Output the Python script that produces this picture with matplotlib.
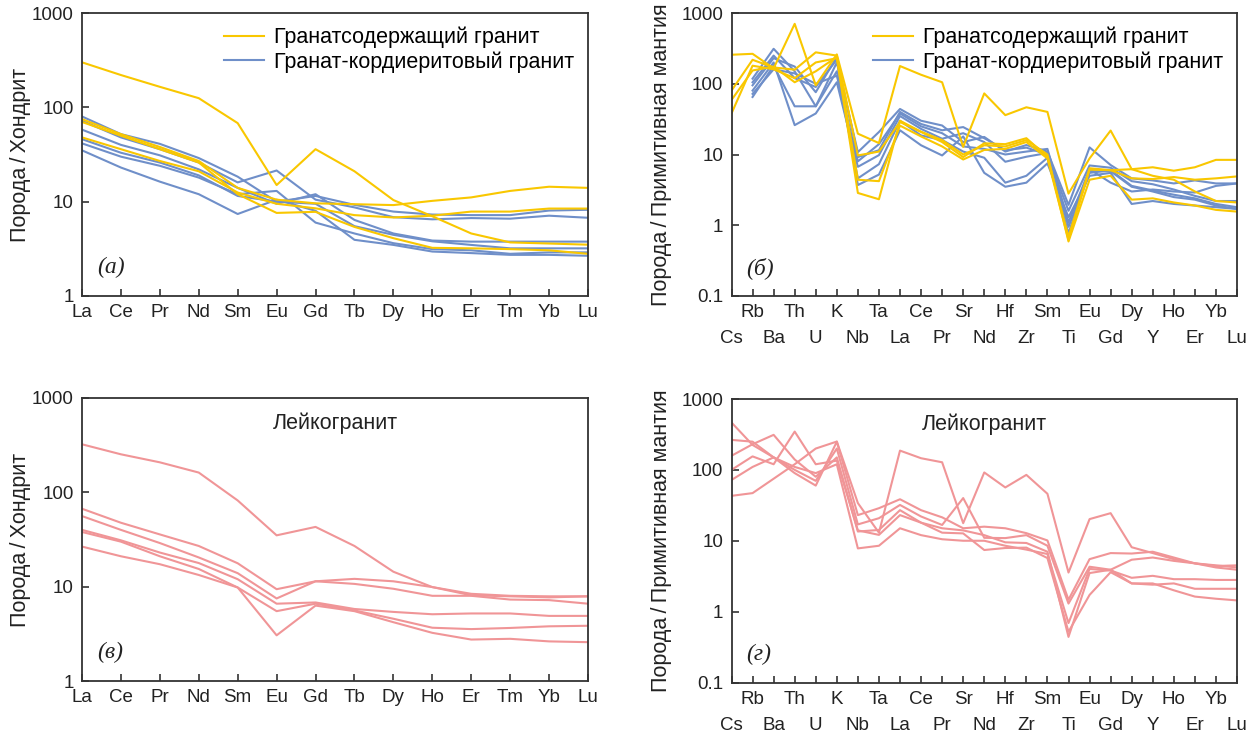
import numpy as np
import matplotlib.pyplot as plt
from matplotlib.ticker import NullLocator

plt.rcParams['font.family'] = ['Liberation Sans', 'DejaVu Sans']

# Element order for the two kinds of plots
ree = ['La', 'Ce', 'Pr', 'Nd', 'Sm', 'Eu', 'Gd', 'Tb', 'Dy', 'Ho', 'Er', 'Tm', 'Yb', 'Lu']
spider = ['Cs', 'Rb', 'Ba', 'Th', 'U', 'K', 'Nb', 'Ta', 'La', 'Ce', 'Pr', 'Sr', 'Nd',
          'Hf', 'Zr', 'Sm', 'Ti', 'Eu', 'Gd', 'Dy', 'Y', 'Ho', 'Er', 'Yb', 'Lu']

# Garnet-bearing granite, chondrite normalized
grt_ree = [
    [300, 220, 165, 125, 68, 15, 36, 21, 10.4, 7.0, 4.6, 3.7, 3.6, 3.5],
    [75, 52, 38, 27, 14, 10.5, 9.6, 9.4, 9.2, 10.2, 11.1, 13.0, 14.4, 14.0],
    [48, 36, 27, 21, 12.5, 9.5, 8.5, 7.2, 6.8, 7.1, 7.85, 7.85, 8.45, 8.45],
    [70, 50, 36, 26, 12, 7.6, 7.8, 5.4, 4.1, 3.24, 3.2, 3.14, 3.05, 2.8],
]
# Garnet-cordierite granite, chondrite normalized
crd_ree = [
    [80, 52, 41, 29, 18.4, 10, 11.5, 9.25, 7.85, 7.3, 7.2, 7.2, 8.05, 8.2],
    [72, 48, 36, 26, 16, 21.4, 10.5, 8.7, 6.85, 6.5, 6.7, 6.6, 7.1, 6.75],
    [58, 40, 31, 22, 14, 9.5, 12, 6.4, 4.6, 3.87, 3.77, 3.77, 3.77, 3.77],
    [46, 33, 26, 19, 11.5, 10, 9.5, 5.5, 4.45, 3.8, 3.48, 3.2, 3.2, 3.2],
    [41.5, 30, 24, 18, 12, 13, 6, 4.6, 3.63, 3.14, 3.05, 2.8, 2.9, 2.9],
    [35, 23, 16.3, 12, 7.4, 10.5, 8, 3.94, 3.48, 2.96, 2.85, 2.73, 2.73, 2.67],
]

# Garnet-bearing granite, primitive mantle normalized
grt_spider = [
    [257, 265, 165, 703, 95, 260, 19.7, 14.5, 178, 134, 105, 12.8, 73, 36, 46.5, 40,
     2.8, 8.8, 21.8, 6.2, 5.0, 4.4, 3.0, 2.2, 2.1],
    [80, 218, 170, 158, 278, 250, 9.7, 11, 28.8, 20.8, 15, 9.2, 14.4, 14, 17, 9.3,
     0.69, 6.4, 6.0, 6.2, 6.6, 5.9, 6.6, 8.4, 8.4],
    [59, 154, 175, 105, 150, 240, 4.4, 4.2, 25.6, 18, 13, 8.5, 11.6, 12, 15, 8.8,
     0.62, 6.1, 6.0, 4.6, 4.5, 4.8, 4.4, 4.6, 4.9],
    [38, 180, 160, 120, 200, 230, 2.86, 2.33, 30, 21, 16, 10, 13.5, 13, 16, 10,
     0.59, 4.4, 5.0, 2.3, 2.4, 2.1, 1.9, 1.65, 1.56],
]
# Garnet-cordierite granite, primitive mantle normalized (no Cs data)
crd_spider = [
    [np.nan, 118, 312, 150, 48, 200, 10.8, 20.8, 44, 30, 25.7, 15, 17.7, 11, 13.6, 11,
     1.94, 12.6, 7.1, 4.6, 4.3, 3.9, 4.3, 3.9, 3.9],
    [np.nan, 95, 230, 175, 76, 240, 9.2, 11.5, 40, 27, 22, 24.4, 17, 11.5, 12.5, 10,
     1.6, 7, 6.5, 4.2, 3.8, 3.2, 2.6, 2.2, 2.2],
    [np.nan, 80, 200, 26, 38, 105, 6.7, 9.8, 35, 23, 16.7, 20, 15, 7.9, 9.3, 10.5,
     0.95, 5.5, 6.0, 3.6, 3.1, 2.7, 2.4, 2.0, 1.8],
    [np.nan, 65, 180, 48, 48, 150, 4.6, 7.3, 30, 18.6, 16, 11, 9, 4.0, 5.0, 9,
     0.77, 5.8, 5.8, 3.5, 3.0, 2.5, 2.3, 1.9, 1.7],
    [np.nan, 105, 250, 120, 90, 220, 3.7, 5.2, 22, 13.5, 9.7, 18, 5.5, 3.5, 4.0, 7.5,
     1.3, 5.0, 5.5, 2.0, 2.2, 2.0, 1.9, 1.8, 1.7],
    [np.nan, 72, 160, 140, 100, 130, 8, 14, 38, 25, 20, 13, 12, 10, 11, 12,
     1.1, 6.2, 4.0, 3.0, 3.2, 3.0, 2.9, 3.6, 3.9],
]

# Leucogranite
leuco_ree = [
    [323, 253, 208, 162, 82, 35, 43, 27, 14.4, 9.9, 8.4, 8.0, 7.9, 7.9],
    [67, 47.6, 35.8, 27, 17.7, 9.4, 11.4, 12.1, 11.4, 9.9, 8.1, 7.9, 7.7, 7.9],
    [56, 40, 29, 20.4, 13.9, 7.5, 11.4, 10.7, 9.5, 8.0, 8.0, 7.3, 7.2, 6.6],
    [40, 31, 23, 17.8, 12, 6.6, 6.8, 5.8, 5.4, 5.1, 5.2, 5.2, 4.9, 4.9],
    [38, 30, 21, 15.4, 9.8, 5.5, 6.6, 5.6, 4.57, 3.67, 3.55, 3.65, 3.8, 3.85],
    [26.6, 21, 17.3, 13.3, 9.8, 3.05, 6.3, 5.5, 4.2, 3.24, 2.75, 2.8, 2.63, 2.58],
]
leuco_spider = [
    [43, 47, 75, 120, 200, 251, 34, 13, 187, 146, 128, 17.7, 92, 56.5, 85, 46,
     3.56, 20.2, 24.5, 8.1, 6.7, 5.5, 4.8, 4.4, 4.5],
    [466, 225, 150, 90, 60, 250, 23, 28.8, 38.5, 27, 21.4, 15, 15.8, 15, 12.8, 10.1,
     1.47, 5.5, 6.7, 6.6, 7.0, 5.8, 4.8, 4.2, 3.9],
    [265, 250, 150, 100, 70, 200, 17, 20.8, 32, 22, 16.7, 40, 11, 10.9, 12, 8.5,
     1.3, 4.3, 3.9, 5.4, 5.8, 5.2, 4.8, 4.5, 4.2],
    [158, 230, 312, 140, 80, 150, 13.5, 14.2, 27, 18, 13, 12.7, 7.4, 7.9, 8, 5.7,
     0.52, 1.72, 3.6, 2.5, 2.5, 2.0, 1.63, 1.52, 1.44],
    [100, 155, 120, 347, 120, 135, 14, 12.1, 23, 18, 15, 14, 12, 9.5, 9.3, 7,
     0.44, 3.5, 3.9, 2.5, 2.4, 2.5, 2.1, 2.1, 2.1],
    [72, 110, 150, 110, 90, 120, 7.8, 8.5, 15, 12, 10.5, 10, 10, 8.5, 7.5, 6.5,
     0.69, 4.0, 3.8, 3.0, 3.2, 2.87, 2.87, 2.8, 2.8],
]

yellow = '#F9C700'
blue = '#6F8FC9'
pink = '#F09597'
ink = '#222222'
lw = 1.5
label_size = 15.5
tick_size = 13.5


def setup(ax, labels, yticks, ylabel, labelpad, two_rows=False):
    ax.set_yscale('log')
    ax.set_ylim(yticks[0], yticks[-1])
    ax.set_yticks(yticks)
    ax.set_yticklabels([f'{t:g}' for t in yticks])
    ax.yaxis.set_minor_locator(NullLocator())
    ax.set_xlim(0, len(labels) - 1)
    pos = np.arange(len(labels))
    if two_rows:
        # odd elements on the upper row, even ones one row lower (minor ticks)
        ax.set_xticks(pos[1::2])
        ax.set_xticklabels(labels[1::2])
        ax.set_xticks(pos[0::2], minor=True)
        ax.set_xticklabels(labels[0::2], minor=True)
    else:
        ax.set_xticks(pos)
        ax.set_xticklabels(labels)
    ax.tick_params(which='both', direction='in', length=5, width=1.1,
                   labelsize=tick_size, colors=ink)
    ax.tick_params(axis='x', which='major', pad=6)
    ax.tick_params(axis='x', which='minor', pad=24.5)
    ax.tick_params(axis='y', pad=6)
    ax.set_ylabel(ylabel, fontsize=label_size, color=ink, labelpad=labelpad)
    for s in ax.spines.values():
        s.set_linewidth(1.3)
        s.set_color('#333333')


fig = plt.figure(figsize=(12.59, 7.38), dpi=100)
W, H = 1259, 738


def add_axes(left, top, right, bottom):
    return fig.add_axes([left / W, 1 - bottom / H, (right - left) / W, (bottom - top) / H])


ax_a = add_axes(82, 13, 588, 296)
ax_b = add_axes(731.5, 13, 1237, 296)
ax_c = add_axes(82, 398, 588, 681)
ax_d = add_axes(731.5, 399, 1237, 682.5)

x_ree = np.arange(len(ree))
x_sp = np.arange(len(spider))

# (a) and (b): garnet-bearing vs garnet-cordierite granites
for ax, x, grt, crd in [(ax_a, x_ree, grt_ree, crd_ree), (ax_b, x_sp, grt_spider, crd_spider)]:
    for row in crd:
        hb, = ax.plot(x, row, color=blue, lw=lw)
    for row in grt:
        hy, = ax.plot(x, row, color=yellow, lw=lw)
    ax.legend([hy, hb], ['Гранатсодержащий гранит', 'Гранат-кордиеритовый гранит'],
              loc='upper right', frameon=False, fontsize=label_size, handlelength=1.85,
              handletextpad=0.45, labelspacing=0.12, borderaxespad=0.25)

# (c) and (d): leucogranite
for row in leuco_ree:
    ax_c.plot(x_ree, row, color=pink, lw=lw)
for row in leuco_spider:
    ax_d.plot(x_sp, row, color=pink, lw=lw)
for ax in (ax_c, ax_d):
    ax.text(0.5, 0.912, 'Лейкогранит', transform=ax.transAxes, ha='center', va='center',
            fontsize=label_size, color=ink)

setup(ax_a, ree, [1, 10, 100, 1000], 'Порода\u2009/\u2009Хондрит', 0.5)
setup(ax_c, ree, [1, 10, 100, 1000], 'Порода\u2009/\u2009Хондрит', 0.5)
setup(ax_b, spider, [0.1, 1, 10, 100, 1000], 'Порода\u2009/\u2009Примитивная мантия', 7,
      two_rows=True)
setup(ax_d, spider, [0.1, 1, 10, 100, 1000], 'Порода\u2009/\u2009Примитивная мантия', 7,
      two_rows=True)

# panel letters
for ax, letter in [(ax_a, 'а'), (ax_b, 'б'), (ax_c, 'в'), (ax_d, 'г')]:
    ax.text(0.03, 0.1, f'({letter})', transform=ax.transAxes, fontsize=17,
            family='Liberation Serif', style='italic', color=ink, va='center')

fig.savefig('out.png', dpi=100)
